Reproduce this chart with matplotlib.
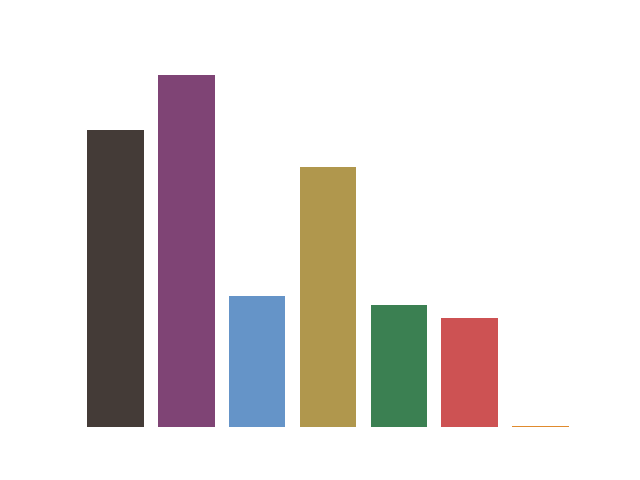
import matplotlib
matplotlib.use("Agg")
import matplotlib.pyplot as plt

categories = ["A", "B", "C", "D", "E", "F", "G"]
values = [297, 352, 131, 260, 122, 109, 1.5]
colors = ["#443b37", "#7f4475", "#6594c8", "#b0974d", "#3b8052", "#cd5253", "#e08b2e"]

fig, ax = plt.subplots(figsize=(6.4, 4.8), dpi=100)
x = range(len(categories))
ax.bar(x, values, width=0.8, color=colors)
ax.set_xlim(-0.5, len(categories) - 0.5)
ax.axis("off")

fig.savefig("out.png")
